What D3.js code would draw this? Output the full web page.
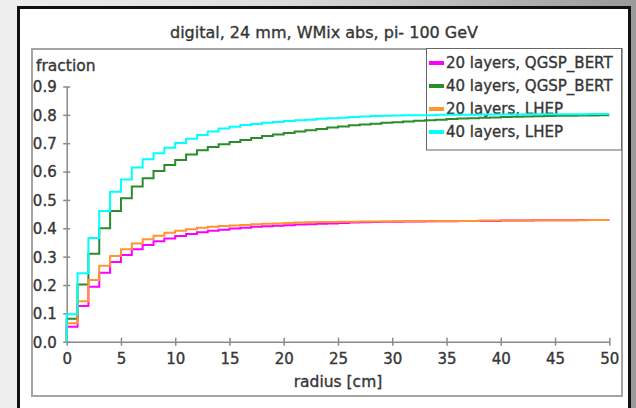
<!DOCTYPE html>
<html>
<head>
<meta charset="utf-8">
<script src="https://cdn.jsdelivr.net/npm/d3@7"></script>
<style>
  html, body { margin: 0; padding: 0; }
  body { width: 636px; height: 408px; overflow: hidden; }
  svg { display: block; }
  text { font-family: "DejaVu Sans", Verdana, sans-serif; fill: #363636; stroke: #363636; stroke-width: 0.35px; }
</style>
</head>
<body>
<svg id="chart" width="636" height="408"></svg>
<script>
// Radial containment fraction, 1 cm bins from 0 to 50 cm
const xTicks = [0, 5, 10, 15, 20, 25, 30, 35, 40, 45, 50];
const yTicks = [0.0, 0.1, 0.2, 0.3, 0.4, 0.5, 0.6, 0.7, 0.8, 0.9];
const seriesNames = ["20 layers, QGSP_BERT", "40 layers, QGSP_BERT", "20 layers, LHEP", "40 layers, LHEP"];
const seriesColors = ["#ff00ff", "#2a8c2a", "#ff9430", "#00ffff"];

const layers20QGSP = [
  0.053, 0.126, 0.194, 0.243, 0.281, 0.306, 0.326, 0.341, 0.354, 0.364,
  0.373, 0.380, 0.386, 0.391, 0.395, 0.399, 0.402, 0.405, 0.407, 0.409,
  0.411, 0.413, 0.414, 0.416, 0.417, 0.419, 0.420, 0.421, 0.422, 0.423,
  0.423, 0.424, 0.424, 0.425, 0.425, 0.425, 0.426, 0.426, 0.426, 0.426,
  0.427, 0.427, 0.427, 0.428, 0.428, 0.428, 0.428, 0.429, 0.429, 0.429];
const layers40QGSP = [
  0.081, 0.202, 0.310, 0.400, 0.461, 0.506, 0.547, 0.576, 0.602, 0.623,
  0.641, 0.660, 0.675, 0.687, 0.696, 0.704, 0.711, 0.718, 0.725, 0.731,
  0.736, 0.741, 0.746, 0.750, 0.755, 0.759, 0.763, 0.766, 0.769, 0.772,
  0.774, 0.777, 0.779, 0.781, 0.783, 0.785, 0.787, 0.788, 0.790, 0.791,
  0.792, 0.793, 0.794, 0.795, 0.796, 0.797, 0.797, 0.798, 0.798, 0.799];
const layers20LHEP = [
  0.065, 0.143, 0.218, 0.268, 0.302, 0.326, 0.346, 0.361, 0.374, 0.384,
  0.391, 0.397, 0.402, 0.405, 0.408, 0.410, 0.412, 0.414, 0.416, 0.417,
  0.419, 0.420, 0.421, 0.422, 0.422, 0.423, 0.423, 0.424, 0.424, 0.424,
  0.425, 0.425, 0.425, 0.425, 0.426, 0.426, 0.426, 0.426, 0.427, 0.427,
  0.427, 0.427, 0.427, 0.428, 0.428, 0.428, 0.428, 0.428, 0.429, 0.429];
const layers40LHEP = [
  0.097, 0.241, 0.366, 0.461, 0.529, 0.572, 0.614, 0.643, 0.665, 0.684,
  0.701, 0.716, 0.729, 0.741, 0.752, 0.758, 0.764, 0.768, 0.772, 0.775,
  0.778, 0.781, 0.783, 0.786, 0.788, 0.790, 0.792, 0.794, 0.796, 0.797,
  0.798, 0.799, 0.799, 0.799, 0.800, 0.800, 0.800, 0.800, 0.801, 0.801,
  0.801, 0.801, 0.802, 0.802, 0.802, 0.802, 0.802, 0.802, 0.803, 0.803];

const seriesValues = [layers20QGSP, layers40QGSP, layers20LHEP, layers40LHEP];

const svg = d3.select("#chart");

// window background and framed panel
const defs = svg.append("defs");
const bg = defs.append("linearGradient").attr("id", "bgGrad")
  .attr("x1", "0").attr("y1", "0").attr("x2", "1").attr("y2", "0");
bg.append("stop").attr("offset", "0").attr("stop-color", "#efefef");
bg.append("stop").attr("offset", "0.45").attr("stop-color", "#dcdcdc");
bg.append("stop").attr("offset", "1").attr("stop-color", "#9a9a9a");
svg.append("rect").attr("width", 636).attr("height", 408).attr("fill", "url(#bgGrad)");
svg.append("rect").attr("x", 18.5).attr("y", 7.5).attr("width", 611).attr("height", 410)
  .attr("fill", "#ffffff").attr("stroke", "#111").attr("stroke-width", 3);

// plot box
svg.append("rect").attr("x", 32).attr("y", 49).attr("width", 590).attr("height", 347)
  .attr("fill", "none").attr("stroke", "#a4a4a4").attr("stroke-width", 2);

svg.append("text").attr("x", 324).attr("y", 38).attr("text-anchor", "middle")
  .style("font-size", "16px").text("digital, 24 mm, WMix abs, pi- 100 GeV");

const x = d3.scaleLinear().domain([0, 50]).range([66.7, 609.3]);
const y = d3.scaleLinear().domain([0, 0.9]).range([341.7, 86.5]);

// axes: ticks cross the axis line
const xAxis = svg.append("g").attr("transform", `translate(0,${y(0)})`)
  .call(d3.axisBottom(x).tickValues(xTicks).tickSizeOuter(0).tickSizeInner(4).tickPadding(8));
xAxis.selectAll(".tick line").attr("y1", -4).attr("y2", 4);
const yAxis = svg.append("g").attr("transform", `translate(${x(0)},0)`)
  .call(d3.axisLeft(y).tickValues(yTicks).tickFormat(d3.format(".1f")).tickSizeOuter(0).tickSizeInner(4).tickPadding(6));
yAxis.selectAll(".tick line").attr("x1", -3.5).attr("x2", 3.5);
[xAxis, yAxis].forEach(g => {
  g.select(".domain").attr("stroke", "#8a8a8a").attr("stroke-width", 1.5);
  g.selectAll(".tick line").attr("stroke", "#8a8a8a").attr("stroke-width", 1.5);
  g.selectAll(".tick text").style("font-size", "15px").style("font-family", "DejaVu Sans")
    .attr("fill", "#363636");
});
yAxis.selectAll(".tick text").attr("dy", "0.36em");

svg.append("text").attr("x", 36).attr("y", 71).style("font-size", "15.5px").text("fraction");
svg.append("text").attr("x", (x(0) + x(50)) / 2).attr("y", 387).attr("text-anchor", "middle")
  .style("font-size", "15.5px").text("radius [cm]");

// legend (lines are drawn on top of it)
const legend = svg.append("g");
legend.append("rect").attr("x", 426.5).attr("y", 48.5).attr("width", 195).attr("height", 101.5)
  .attr("fill", "#fff").attr("stroke", "#666").attr("stroke-width", 1);
seriesNames.forEach((name, i) => {
  const by = 68 + i * 23;
  legend.append("line").attr("x1", 429).attr("x2", 444).attr("y1", by - 5).attr("y2", by - 5)
    .attr("stroke", seriesColors[i]).attr("stroke-width", 4);
  legend.append("text").attr("x", 446).attr("y", by).style("font-size", "15px").text(name);
});

// step histograms
const line = d3.line().x(d => x(d[0])).y(d => y(d[1])).curve(d3.curveStepAfter);
seriesValues.forEach((vals, i) => {
  const pts = [[0, 0]].concat(vals.map((v, k) => [k, v]), [[vals.length, vals[vals.length - 1]]]);
  svg.append("path").datum(pts).attr("d", line).attr("fill", "none")
    .attr("stroke", seriesColors[i]).attr("stroke-width", 2);
});
</script>
</body>
</html>
